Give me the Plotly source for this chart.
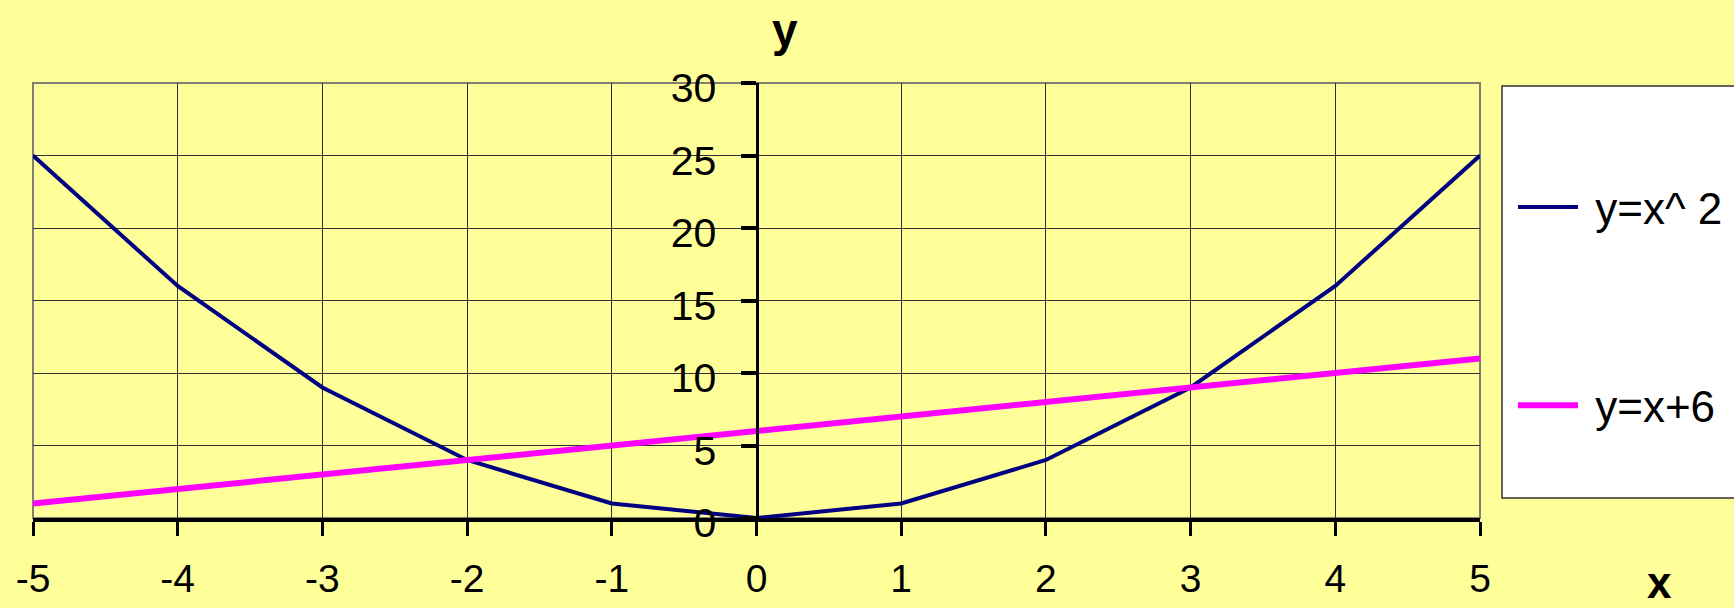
import plotly.graph_objects as go

# Data
x_vals = [-5, -4, -3, -2, -1, 0, 1, 2, 3, 4, 5]
x_tick_text = ["-5", "-4", "-3", "-2", "-1", "0", "1", "2", "3", "4", "5"]
y_square = [25, 16, 9, 4, 1, 0, 1, 4, 9, 16, 25]
y_line = [1, 2, 3, 4, 5, 6, 7, 8, 9, 10, 11]
series_names = ["y=x^ 2", "y=x+6"]
y_ticks = [0, 5, 10, 15, 20, 25, 30]

BG = "#FFFF99"
SANS = "Liberation Sans, Arial, sans-serif"

fig = go.Figure()
fig.add_trace(go.Scatter(
    x=x_vals, y=y_square, mode="lines", name="&nbsp;" + series_names[0],
    line=dict(color="#000080", width=4), legendgroup="a",
))
fig.add_trace(go.Scatter(
    x=x_vals, y=y_line, mode="lines", name="&nbsp;" + series_names[1],
    line=dict(color="#FF00FF", width=6), legendgroup="b",
))

W, H = 1734, 608
ml, mr, mt, mb = 33, 254, 83, 90
pw, ph = W - ml - mr, H - mt - mb


def px_to_paper_x(px):
    return (px - ml) / pw


def px_to_paper_y(py):
    return (H - mb - py) / ph


fig.update_layout(
    width=W, height=H, autosize=False,
    margin=dict(l=ml, r=mr, t=mt, b=mb, pad=0, autoexpand=False),
    paper_bgcolor=BG, plot_bgcolor=BG,
    showlegend=True,
    legend=dict(
        x=px_to_paper_x(1513), xanchor="left",
        y=px_to_paper_y(172), yanchor="top",
        bgcolor="rgba(0,0,0,0)", borderwidth=0,
        font=dict(family=SANS, size=44, color="#000000"),
        traceorder="grouped", tracegroupgap=138,
        itemwidth=60,
    ),
    xaxis=dict(
        range=[-5, 5], tickmode="array", tickvals=x_vals, ticktext=x_tick_text,
        showgrid=True, gridcolor="#303030", gridwidth=1,
        zeroline=False, automargin=False,
        showline=True, linecolor="#000000", linewidth=4,
        ticks="outside", ticklen=14, tickwidth=3, tickcolor="#000000",
        tickfont=dict(family=SANS, size=39, color="#000000"),
        ticklabelstandoff=9,
        fixedrange=True,
    ),
    yaxis=dict(
        range=[0, 30], tickmode="array", tickvals=y_ticks,
        showgrid=True, gridcolor="#303030", gridwidth=1,
        zeroline=False, automargin=False,
        anchor="free", position=0.5,
        showline=True, linecolor="#000000", linewidth=3,
        ticks="outside", ticklen=15, tickwidth=4, tickcolor="#000000",
        tickfont=dict(family=SANS, size=41, color="#000000"),
        ticklabelstandoff=16, ticklabelshift=5,
        fixedrange=True,
    ),
    shapes=[
        # plot area frame
        dict(type="rect", xref="paper", yref="paper", x0=0, x1=1, y0=0, y1=1,
             line=dict(color="#808070", width=2), layer="below"),
        # legend box
        dict(type="rect", xref="paper", yref="paper",
             x0=px_to_paper_x(1502), x1=px_to_paper_x(1745),
             y0=px_to_paper_y(498), y1=px_to_paper_y(86),
             line=dict(color="#303030", width=1.5), fillcolor="#FFFFFF",
             layer="below"),
    ],
    annotations=[
        dict(text="<b>y</b>", xref="paper", yref="paper",
             x=px_to_paper_x(785), y=px_to_paper_y(30),
             xanchor="center", yanchor="middle", showarrow=False,
             font=dict(family=SANS, size=46, color="#000000")),
        dict(text="<b>x</b>", xref="paper", yref="paper",
             x=px_to_paper_x(1659), y=px_to_paper_y(582),
             xanchor="center", yanchor="middle", showarrow=False,
             font=dict(family=SANS, size=44, color="#000000")),
    ],
)

fig.write_html("out.html")
